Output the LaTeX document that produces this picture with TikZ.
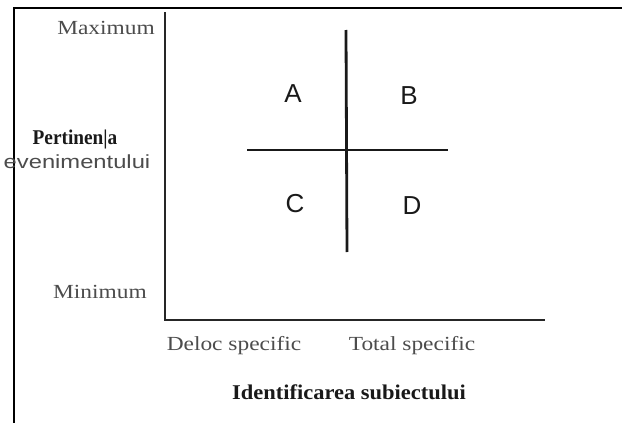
\documentclass[tikz,border=0pt]{standalone}
\usepackage{fontspec}
\setmainfont{Liberation Serif}
\setsansfont{Liberation Sans}
\newfontfamily\wserif[FakeStretch=1.17]{Liberation Serif}
\newfontfamily\wserifb[FakeStretch=1.07]{Liberation Serif Bold}
\newfontfamily\nserifb[FakeStretch=0.92]{Liberation Serif Bold}
\newfontfamily\wsans[FakeStretch=1.25]{Liberation Sans}
\begin{document}
\begin{tikzpicture}[x=1pt,y=-1pt,
  lbl/.style={font=\wserif\fontsize{20}{22}\selectfont, text=black!70, inner sep=0pt},
  blbl/.style={font=\wserifb\fontsize{21}{23}\selectfont, text=black!90, inner sep=0pt},
  quad/.style={font=\sffamily\fontsize{26}{28}\selectfont, text=black!90, inner sep=0pt},
  axis/.style={line width=2.8pt, black!85},
  qline/.style={line width=2.8pt, black!90}]
\useasboundingbox (0,0) rectangle (622,423);
% frame (top and left only)
\coordinate (f1) at (14,423);
\coordinate (f2) at (14,8);
\coordinate (f3) at (622,8);
\draw[line width=2pt] (f1) -- (f2) -- (f3);
% axes
\coordinate (ytop) at (165,12);
\coordinate (orig) at (165,320);
\coordinate (xend) at (545,320);
\draw[axis] (ytop) -- (orig) -- (xend);
% quadrant lines
\coordinate (vt) at (346,30);
\coordinate (vb) at (347,252);
\coordinate (hl) at (247,150);
\coordinate (hr) at (448,150);
\draw[qline] (vt) -- (vb);
\draw[qline] (hl) -- (hr);
% quadrant letters
\node[quad] (A) at (293,94) {A};
\node[quad] (B) at (409,96) {B};
\node[quad] (C) at (295,204) {C};
\node[quad] (D) at (412,206) {D};
% y labels
\node[lbl, anchor=east] (max) at (155,28) {Maximum};
\node[lbl, anchor=east] (min) at (147,292) {Minimum};
\node[font=\nserifb\fontsize{21}{23}\selectfont, text=black!90, inner sep=0pt] (pert) at (75,139) {Pertinen|a};
\node[font=\wsans\fontsize{19}{21}\selectfont, text=black!70, inner sep=0pt] (even) at (77,162) {evenimentului};
% x labels
\node[lbl] (deloc) at (234,346) {Deloc specific};
\node[lbl] (total) at (412,346) {Total specific};
\node[blbl] (ident) at (349,392) {Identificarea subiectului};
\end{tikzpicture}
\end{document}
